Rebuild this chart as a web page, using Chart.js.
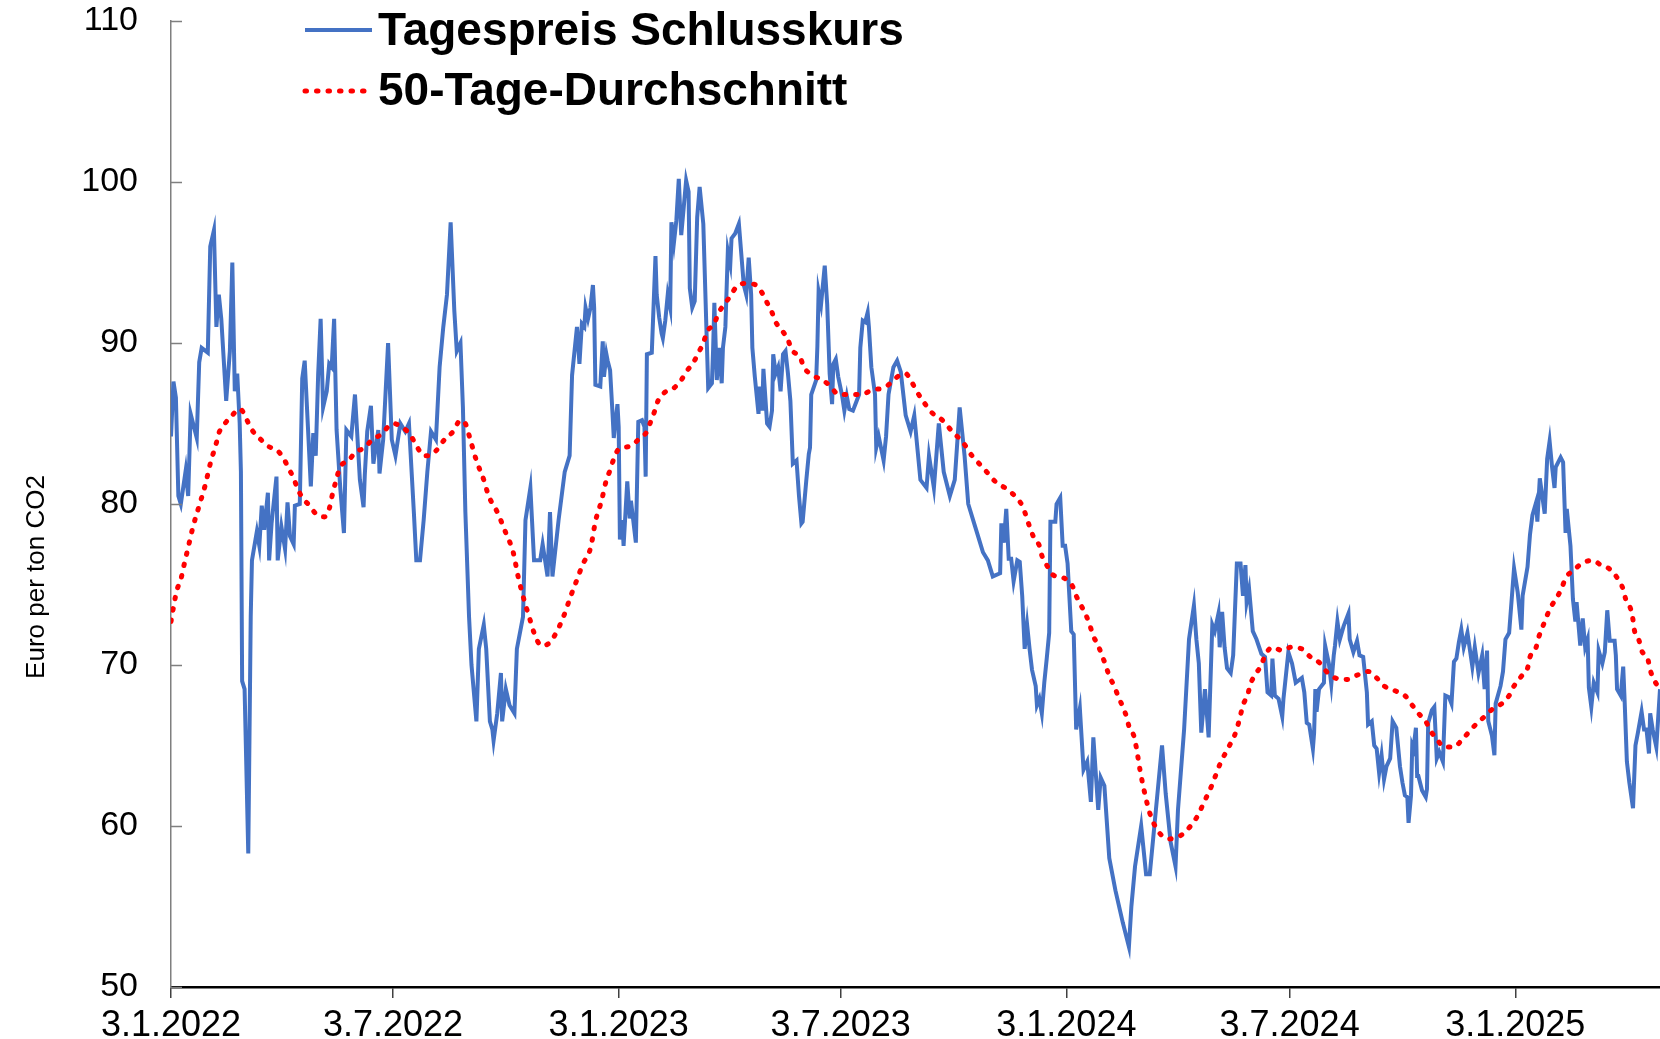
<!DOCTYPE html>
<html>
<head>
<meta charset="utf-8">
<title>CO2 Preis</title>
<script src="https://cdn.jsdelivr.net/npm/chart.js@4.4.1/dist/chart.umd.min.js"></script>
<style>
  html, body { margin: 0; padding: 0; background: #fff; }
  #wrap { width: 1660px; height: 1039px; }
</style>
</head>
<body>
<div id="wrap"><canvas id="co2Chart" width="1660" height="1039"></canvas></div>
<script>
// Tage seit 3.1.2022 -> Schlusskurs in Euro/t
const priceDays = [0,2,4,6,8,12,14,16,21,23,25,30,32,35,37,39,41,45,48,50,52,54,56,57,58,60,63,65,66,70,72,74,76,79,80,82,86,87,90,93,95,97,100,101,105,107,109,114,116,118,120,122,124,127,129,131,133,135,138,141,143,147,150,154,157,158,160,163,165,169,170,173,
  177,180,183,187,191,194,198,200,203,206,209,212,216,219,222,225,228,231,233,236,238,240,243,245,249,251,255,257,260,262,263,266,269,270,273,276,280,282,287,289,293,296,301,303,307,309,311,316,321,325,327,331,
  333,335,337,338,340,342,344,345,346,350,352,353,355,356,358,360,361,364,365,366,368,369,372,374,375,379,381,384,386,387,388,392,395,396,398,400,401,403,405,407,408,410,412,414,416,418,420,422,423,425,427,429,431,434,437,438,441,442,443,445,447,449,450,452,454,456,457,460,463,467,469,471,473,474,476,479,480,482,483,486,488,490,491,493,495,497,499,501,503,505,507,510,512,514,515,518,520,521,522,526,527,528,530,533,535,537,539,540,542,544,547,549,551,553,556,559,561,562,564,566,568,569,571,574,575,577,581,583,585,589,592,595,
  599,603,606,611,616,618,622,626,630,635,639,643,647,650,654,658,662,666,670,
  676,677,679,681,683,685,687,690,692,694,696,698,700,702,705,706,708,710,712,714,716,717,721,722,725,727,729,731,734,736,738,741,744,747,750,752,756,758,761,765,770,776,781,783,786,791,795,798,803,808,811,815,819,821,826,830,834,836,838,840,843,846,849,851,854,855,857,859,861,864,866,869,872,874,876,877,879,882,885,889,892,894,897,898,900,903,906,907,911,914,917,922,924,926,928,931,932,933,934,936,940,941,944,946,948,949,951,953,956,960,961,964,967,969,972,975,976,979,981,983,985,987,989,991,994,996,999,1002,1004,1006,1008,1009,1011,1012,1013,1015,1016,1017,1020,1023,1024,1025,1028,1030,1032,1034,1037,1039,1042,1044,1046,1048,1050,1052,1054,1057,1061,1063,1066,1069,1071,1073,1074,1077,1079,1080,1084,1086,1088,1091,1095,1098,1101,1102,1106,1108,1110,1113,1114,1116,1120,1122,1124,1126,1128,1129,1133,1135,1137,1138,1141,1143,1145,1146,1149,1151,1153,1155,1156,1158,1160,1163,1164,1167,1169,1171,1173,1177,1178,1179,1182,1184,1185,1187,1189,1192,1194,1196,1199,1201,1203,1205,1206,1208,1211,1214];
const priceValues = [84.2,87.6,86.6,80.5,80.0,82.1,80.5,85.6,84.1,88.8,89.7,89.4,96,97,91,93,91.5,86.4,89.5,95,87,88.1,85,82,69,68.5,58.3,73,76.5,78.3,77.4,79.9,78.4,80.7,76.5,78.8,81.7,76.5,78.6,77.2,80.1,78.0,77.5,79.9,80.0,87.8,88.9,81.1,84.4,83.0,88.1,91.5,86,87.0,88.7,88.5,91.5,84.6,81,78.2,84.6,84.2,86.8,81.5,79.8,81.8,84.5,86.1,82.5,84.6,81.9,84.0,
  90,84,83,85,84.5,85,79.5,76.5,76.5,79,82,84.5,84,88.5,91,93,97.5,92,89.5,90,86,79.5,73,70,66.5,71,72.5,71,66.5,66,65.3,67,69.5,66.5,68.5,67.5,67,71,73,79,81,76.5,76.5,77.5,75.5,79.5,75.5,79,82,83,88,91,
  88.7,91.2,91.0,92.2,91.5,92.2,93.6,92.2,87.4,87.3,90.1,87.9,89.3,88.9,88.3,85.6,84.1,86.2,84.8,77.8,79.0,77.4,81.4,79.1,80.2,77.6,85.1,85.2,84.8,81.7,89.3,89.4,95.4,93.0,91.6,90.6,90.3,91.4,93.0,92.2,97.5,96.2,97.6,100.2,96.7,98.4,100.1,99.4,93.4,92.2,92.6,97.8,99.7,97.4,89.7,87.2,87.5,89.6,92.5,87.7,89.7,87.5,89.7,91.0,95.7,94.9,96.5,96.8,97.4,93.6,93.0,95.3,93.0,89.7,87.9,85.6,87.3,85.8,88.4,85.0,84.8,85.8,89.3,88.1,88.5,87.0,89.3,89.5,88.1,86.4,82.5,82.7,80.5,78.8,78.9,81.5,83.1,83.5,86.8,87.7,89.8,93.2,92.4,94.8,92.4,88.1,86.2,88.7,89.0,87.9,86.8,85.8,86.7,85.9,85.8,86.4,86.8,89.7,91.4,91.3,91.9,91.0,88.5,86.8,83.5,84.2,82.7,84.2,86.8,88.5,88.9,88.2,
  85.5,84.5,85.5,81.5,81,83,81,85,82,80.5,81.5,86,83,80,79,78,77,76.5,75.5,
  75.7,78.8,77.6,79.7,76.6,76.6,75.2,76.5,76.4,74.3,71.0,72.5,71.0,69.7,68.7,67.5,67.9,67.0,68.9,70.4,72.0,78.9,78.9,80.0,80.4,77.4,77.4,76.3,72.1,71.9,66.0,67.3,63.5,64,61.5,65.5,61,63,62.5,58,56,54,52.5,55,57.5,60,57,57,61,65,62,59,57.5,61,66,71.6,73.7,71.6,70.1,65.8,68.5,65.5,72.5,72.1,73.2,71.1,73.3,71.1,69.8,69.5,70.6,76.3,76.3,74.3,76.2,73.9,74.7,72.1,71.6,70.7,70.5,68.3,68.1,70.4,68.1,67.9,66.8,67.9,70.8,70.1,68.9,69.2,68.3,66.4,66.3,64.8,65.8,68.5,67.1,68.5,68.9,71.2,70.1,68.8,70.6,71.2,72.7,71.6,72.4,73.2,71.6,70.8,71.5,70.6,70.5,68.3,66.3,66.5,65.0,64.8,63.3,64.4,62.9,63.7,64.2,66.5,66.1,63.7,62.7,61.9,61.8,60.2,61.9,65.0,64.8,66.1,63.1,63.1,62.2,61.8,62.3,66.4,67.2,67.4,64.2,64.6,64.0,68.1,68.0,67.6,70.2,70.4,71.4,72.2,71.1,72.0,69.9,71.1,69.5,70.6,68.5,70.9,66.5,65.6,64.4,67.6,68.7,69.6,71.6,72.0,76.0,74.5,72.2,74.3,76.1,78.1,79.3,80.1,78.9,81.6,79.4,82.8,83.9,82.3,81.0,82.3,82.9,82.6,78.2,79.7,77.4,74.1,72.7,73.9,71.2,72.9,71.1,71.6,68.6,67.4,68.9,68.3,70.9,70.1,70.8,73.4,71.5,71.5,70.6,68.5,68.1,69.9,68.1,64.0,62.7,61.1,65.0,65.8,67.1,66.0,66.0,64.5,67.0,66.0,64.9,68.5];

// 50-Tage-Durchschnitt
const avgDays = [0,3,5,8,10,14,18,23,28,32,37,39,44,51,55,58,62,66,72,79,87,92,96,100,103,107,113,118,125,129,131,134,138,145,150,158,164,171,
  181,188,195,201,206,210,216,223,230,236,240,244,249,255,259,266,273,279,283,288,292,296,
  302,309,314,320,326,331,336,341,343,346,351,355,358,361,365,375,381,388,391,394,397,402,410,416,421,426,430,434,437,443,446,451,456,461,468,477,482,486,490,493,498,503,506,513,516,523,531,538,544,553,563,572,581,588,594,599,603,608,614,620,629,
  637,646,653,659,665,672,
  682,688,694,697,700,703,708,710,714,719,728,735,738,742,746,749,752,756,759,762,765,769,772,776,779,781,785,787,790,794,798,803,808,814,823,829,836,843,849,855,863,867,870,872,874,878,880,884,889,892,898,906,913,922,929,937,942,949,959,968,976,983,989,998,1006,1012,1017,1023,1027,1032,1038,1046,1053,1059,1065,1071,1078,1085,1091,1095,1101,1106,1108,1113,1115,1118,1121,1125,1130,1134,1137,1144,1150,1159,1166,1174,1180,1184,1186,1190,1192,1193,1197,1199,1204,1206,1209,1214];
const avgValues = [72.7,74.0,74.7,75.3,76.0,77.3,78.6,79.9,81.2,82.5,83.8,84.4,85.0,85.6,85.9,85.8,85.2,84.6,84.1,83.6,83.3,82.8,82.2,81.6,81.0,80.4,79.9,79.4,79.2,79.7,80.4,81.3,82.3,82.7,83.2,83.5,84.0,84.3,
  85,84.8,84.3,83.5,83,83,83.3,84,84.5,85.2,85,84,82.7,81.5,80.5,79.5,78.2,77,75.5,74,73,72,
  71.2,71.4,72,73,74.3,75.3,76.3,77.0,77.6,78.9,80.2,81.5,82.1,82.8,83.4,83.6,84.0,84.5,85.1,85.7,86.4,86.9,87.2,87.7,88.3,88.8,89.4,90.0,90.7,91.2,91.8,92.4,92.9,93.5,93.7,93.6,93.1,92.5,91.9,91.3,90.8,90.2,89.6,89.1,88.5,88.0,87.7,87.3,86.8,86.8,86.8,87.1,87.2,87.6,88.0,88.1,87.7,87.0,86.3,85.7,85.2,
  84.5,83.8,83,82.5,82,81.4,
  80.9,80.5,79.9,79.3,78.6,78.0,77.4,76.8,76.2,75.6,75.4,74.9,74.3,73.7,73.1,72.5,71.8,71.2,70.6,70.0,69.3,68.7,68.1,67.4,66.8,66.2,65.6,64.9,63.5,62.0,60.8,59.9,59.4,59.2,59.4,59.8,60.5,61.6,62.6,63.8,65.0,65.6,66.3,66.9,67.5,68.2,68.8,69.4,70.0,70.6,71.1,70.9,71.1,71.0,70.5,70.1,69.6,69.2,69.1,69.4,69.6,69.2,68.7,68.4,68.1,67.5,67.0,66.5,65.9,65.4,64.9,64.9,65.4,65.9,66.4,66.8,67.3,67.6,68.1,68.7,69.3,69.8,70.5,71.1,71.7,72.3,72.9,73.6,74.2,74.8,75.4,75.9,76.3,76.5,76.2,75.9,75.3,74.7,74.1,73.5,72.8,72.2,71.5,70.9,70.4,69.7,69.1,68.5];

// Achsen
const tickDays = [0, 181, 365, 546, 730, 912, 1096];
const tickLabels = ['3.1.2022', '3.7.2022', '3.1.2023', '3.7.2023', '3.1.2024', '3.7.2024', '3.1.2025'];
const lastDay = 1214;
const seriesNames = ['Tagespreis Schlusskurs', '50-Tage-Durchschnitt'];
const yTitle = 'Euro per ton CO2';

const toPoints = (xs, ys) => xs.map((x, i) => ({ x: x, y: ys[i] }));

Chart.defaults.font.family = "'Liberation Sans', Arial, sans-serif";
Chart.defaults.color = '#000';

// Legende oben links im Diagramm, Achsentitel und innere y-Striche
const extras = {
  id: 'extras',
  afterDraw(chart) {
    const ctx = chart.ctx;
    const area = chart.chartArea;
    const y = chart.scales.y;

    ctx.save();
    // kleine Striche nach innen an der y-Achse
    ctx.strokeStyle = '#7f7f7f';
    ctx.lineWidth = 1.5;
    y.ticks.forEach(t => {
      const py = Math.round(y.getPixelForValue(t.value)) + 0.5;
      ctx.beginPath();
      ctx.moveTo(area.left, py);
      ctx.lineTo(area.left + 11, py);
      ctx.stroke();
    });

    // Achsentitel
    ctx.fillStyle = '#000';
    ctx.font = "26px 'Liberation Sans', Arial, sans-serif";
    ctx.textAlign = 'center';
    ctx.textBaseline = 'middle';
    ctx.translate(37, 577);
    ctx.rotate(-Math.PI / 2);
    ctx.fillText(yTitle, 0, 0);
    ctx.restore();

    // Legende
    const rows = [30, 91];
    const baselines = [45, 105];
    ctx.save();
    chart.data.datasets.forEach((ds, i) => {
      ctx.beginPath();
      ctx.strokeStyle = ds.borderColor;
      ctx.lineWidth = ds.borderWidth;
      ctx.lineCap = ds.borderDash ? 'round' : 'butt';
      ctx.setLineDash(ds.borderDash || []);
      ctx.moveTo(area.left + 134, rows[i]);
      ctx.lineTo(area.left + 201, rows[i]);
      ctx.stroke();
      ctx.setLineDash([]);
      ctx.fillStyle = '#000';
      ctx.font = "bold 46px 'Liberation Sans', Arial, sans-serif";
      ctx.textAlign = 'left';
      ctx.textBaseline = 'alphabetic';
      ctx.fillText(ds.label, area.left + 207, baselines[i]);
    });
    ctx.restore();
  }
};

new Chart(document.getElementById('co2Chart'), {
  type: 'line',
  data: {
    datasets: [
      {
        label: seriesNames[0],
        data: toPoints(priceDays, priceValues),
        borderColor: '#4472c4',
        borderWidth: 4,
        pointRadius: 0,
        tension: 0,
        order: 1
      },
      {
        label: seriesNames[1],
        data: toPoints(avgDays, avgValues),
        borderColor: '#ff0000',
        borderWidth: 5,
        borderDash: [1.5, 10],
        borderCapStyle: 'round',
        pointRadius: 0,
        cubicInterpolationMode: 'monotone',
        order: 0
      }
    ]
  },
  options: {
    responsive: false,
    animation: false,
    layout: { padding: { top: 21, right: 0, left: 0, bottom: 0 } },
    plugins: {
      legend: { display: false },
      tooltip: { enabled: false }
    },
    scales: {
      x: {
        type: 'linear',
        min: 0,
        max: lastDay,
        afterBuildTicks: axis => { axis.ticks = tickDays.map(v => ({ value: v })); },
        afterFit: axis => { axis.height = 52; },
        ticks: {
          autoSkip: false,
          maxRotation: 0,
          padding: 6,
          font: { size: 36 },
          callback: (v) => tickLabels[tickDays.indexOf(v)]
        },
        grid: { drawOnChartArea: false, drawTicks: true, tickLength: 11, color: '#404040', lineWidth: 1.5 },
        border: { display: true, color: '#000', width: 2.5 }
      },
      y: {
        min: 50,
        max: 110,
        afterFit: axis => { axis.width = 171; axis.paddingTop = 0; axis.paddingBottom = 0; },
        ticks: { stepSize: 10, padding: 33, font: { size: 34 } },
        grid: { drawOnChartArea: false, drawTicks: false },
        border: { display: true, color: '#7f7f7f', width: 1.5 }
      }
    }
  },
  plugins: [extras]
});
</script>
</body>
</html>
